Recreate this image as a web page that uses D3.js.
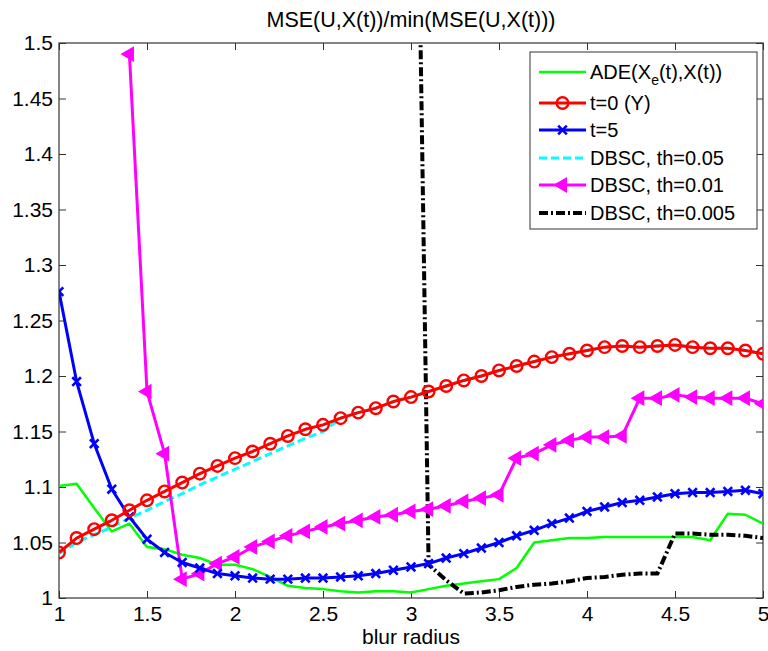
<!DOCTYPE html>
<html>
<head>
<meta charset="utf-8">
<script src="https://cdn.jsdelivr.net/npm/d3@7"></script>
<style>
  body { margin: 0; background: #fff; }
  svg { display: block; font-family: "Liberation Sans", Arial, sans-serif; }
</style>
</head>
<body>
<script>
// raio do desfoque (eixo x)
var raio = [1.0, 1.1, 1.2, 1.3, 1.4, 1.5, 1.6, 1.7, 1.8, 1.9,
            2.0, 2.1, 2.2, 2.3, 2.4, 2.5, 2.6, 2.7, 2.8, 2.9,
            3.0, 3.1, 3.2, 3.3, 3.4, 3.5, 3.6, 3.7, 3.8, 3.9,
            4.0, 4.1, 4.2, 4.3, 4.4, 4.5, 4.6, 4.7, 4.8, 4.9, 5.0];

var xTicks = [1, 1.5, 2, 2.5, 3, 3.5, 4, 4.5, 5];
var yTicks = [1, 1.05, 1.1, 1.15, 1.2, 1.25, 1.3, 1.35, 1.4, 1.45, 1.5];

var ade = [1.101, 1.103, 1.081, 1.060, 1.067, 1.046, 1.044, 1.039, 1.036, 1.030,
           1.030, 1.026, 1.019, 1.011, 1.009, 1.008, 1.006, 1.005, 1.006, 1.006,
           1.005, 1.008, 1.011, 1.013, 1.015, 1.017, 1.027, 1.050, 1.052, 1.054,
           1.054, 1.055, 1.055, 1.055, 1.055, 1.055, 1.055, 1.052, 1.076, 1.075, 1.067];

var t0 = [1.041, 1.054, 1.062, 1.070, 1.079, 1.088, 1.096, 1.104, 1.112, 1.119,
          1.126, 1.132, 1.139, 1.146, 1.152, 1.156, 1.162, 1.167, 1.171, 1.177,
          1.181, 1.186, 1.191, 1.196, 1.200, 1.205, 1.209, 1.213, 1.217, 1.220,
          1.223, 1.226, 1.227, 1.226, 1.227, 1.228, 1.226, 1.225, 1.225, 1.223, 1.220];

var t5 = [1.276, 1.195, 1.139, 1.098, 1.073, 1.053, 1.041, 1.032, 1.027, 1.022,
          1.020, 1.018, 1.017, 1.017, 1.018, 1.018, 1.019, 1.020, 1.022, 1.025,
          1.028, 1.031, 1.036, 1.040, 1.045, 1.050, 1.056, 1.061, 1.067, 1.072,
          1.078, 1.082, 1.086, 1.088, 1.091, 1.094, 1.095, 1.095, 1.096, 1.097, 1.094];

var th005 = [1.040, 1.050, 1.057, 1.064, 1.072, 1.079, 1.087, 1.094, 1.102, 1.109,
             1.116, 1.123, 1.130, 1.137, 1.144, 1.150, 1.162, 1.167, 1.171, 1.177,
             1.181, 1.186, 1.191, 1.196, 1.200, 1.205, 1.209, 1.213, 1.217, 1.220,
             1.223, 1.226, 1.227, 1.226, 1.227, 1.228, 1.226, 1.225, 1.225, 1.223, 1.220];

var th001 = [null, null, null, null, 1.490, 1.186, 1.130, 1.017, 1.022, 1.031,
             1.037, 1.046, 1.051, 1.056, 1.060, 1.064, 1.067, 1.070, 1.073, 1.075,
             1.078, 1.080, 1.083, 1.087, 1.090, 1.093, 1.126, 1.130, 1.138, 1.142,
             1.145, 1.145, 1.146, 1.180, 1.180, 1.183, 1.181, 1.180, 1.180, 1.180, 1.175];

var th0005 = [null, null, null, null, null, null, null, null, null, null,
              null, null, null, null, null, null, null, null, null, null,
              2.060, 1.030, 1.016, 1.004, 1.005, 1.007, 1.010, 1.012, 1.013, 1.015,
              1.018, 1.019, 1.021, 1.022, 1.022, 1.058, 1.058, 1.057, 1.057, 1.056, 1.054];

var series = [
  { nome: "ADE", valores: ade, cor: "#00ff00", largura: 2.5, tracejado: null, marcador: null },
  { nome: "t=0 (Y)", valores: t0, cor: "#ff0000", largura: 3, tracejado: null, marcador: "circulo" },
  { nome: "t=5", valores: t5, cor: "#0000ff", largura: 3, tracejado: null, marcador: "x" },
  { nome: "DBSC, th=0.05", valores: th005, cor: "#00ffff", largura: 3, tracejado: "8,4", marcador: null },
  { nome: "DBSC, th=0.01", valores: th001, cor: "#ff00ff", largura: 3, tracejado: null, marcador: "triangulo" },
  { nome: "DBSC, th=0.005", valores: th0005, cor: "#000000", largura: 4, tracejado: "9,3,2,3", marcador: null }
];

// ordem de desenho (a de cima por último)
var ordem = [0, 3, 5, 4, 2, 1];

const largura = 768;
const altura = 651;
const margens = { c: 43, d: 5, b: 53, e: 59 };
const dim = { l: largura - margens.e - margens.d, a: altura - margens.c - margens.b };

var svg = d3.select("body")
            .append("svg")
            .attr("width", largura)
            .attr("height", altura);

var grafico = svg.append("g")
                 .attr("transform", "translate(" + margens.e + ", " + margens.c + ")");

var xEscala = d3.scaleLinear()
                .domain([1, 5])
                .range([0, dim.l]);

var yEscala = d3.scaleLinear()
                .domain([1, 1.5])
                .range([dim.a, 0]);

grafico.append("clipPath")
       .attr("id", "recorte")
       .append("rect")
       .attr("width", dim.l)
       .attr("height", dim.a);

// eixos com marcas para dentro, nos quatro lados
var corEixo = "#333";

function estiloEixo(g) {
  g.select(".domain").remove();
  g.selectAll(".tick line").attr("stroke", corEixo).attr("stroke-width", 1);
  g.selectAll(".tick text")
   .attr("fill", "#000")
   .style("font-size", "21px");
}

grafico.append("g")
       .attr("transform", "translate(0, " + dim.a + ")")
       .call(d3.axisBottom(xEscala).tickValues(xTicks).tickSize(-7).tickPadding(8)
               .tickFormat(function(d) { return d3.format("")(d); }))
       .call(estiloEixo);

grafico.append("g")
       .call(d3.axisTop(xEscala).tickValues(xTicks).tickSize(-7).tickFormat(""))
       .call(estiloEixo);

grafico.append("g")
       .call(d3.axisLeft(yEscala).tickValues(yTicks).tickSize(-7).tickPadding(6)
               .tickFormat(function(d) { return d3.format("")(+d.toFixed(2)); }))
       .call(estiloEixo);

grafico.append("g")
       .attr("transform", "translate(" + dim.l + ", 0)")
       .call(d3.axisRight(yEscala).tickValues(yTicks).tickSize(-7).tickFormat(""))
       .call(estiloEixo);

grafico.append("rect")
       .attr("width", dim.l)
       .attr("height", dim.a)
       .attr("fill", "none")
       .attr("stroke", corEixo)
       .attr("stroke-width", 1.2);

// linhas
var linha = d3.line()
              .defined(function(d) { return d != null; })
              .x(function(d, i) { return xEscala(raio[i]); })
              .y(function(d) { return yEscala(d); });

var camada = grafico.append("g")
                    .attr("clip-path", "url(#recorte)");

function simbolo(tipo) {
  if (tipo === "circulo") return d3.symbol(d3.symbolCircle, 105)();
  if (tipo === "x") return d3.symbol(d3.symbolX, 50)();
  return d3.symbol(d3.symbolTriangle, 75)();
}

function desenharMarcador(sel, s) {
  if (s.marcador === "circulo") {
    sel.attr("d", simbolo("circulo"))
       .attr("fill", "none")
       .attr("stroke", s.cor)
       .attr("stroke-width", 2.4);
  } else if (s.marcador === "x") {
    sel.attr("d", simbolo("x"))
       .attr("fill", "none")
       .attr("stroke", s.cor)
       .attr("stroke-width", 2.6);
  } else {
    sel.attr("d", simbolo("triangulo"))
       .attr("fill", s.cor)
       .attr("stroke", s.cor)
       .attr("stroke-width", 1.5);
  }
}

ordem.forEach(function(k) {
  var s = series[k];
  camada.append("path")
        .datum(s.valores)
        .attr("fill", "none")
        .attr("stroke", s.cor)
        .attr("stroke-width", s.largura)
        .attr("stroke-dasharray", s.tracejado)
        .attr("stroke-linejoin", "round")
        .attr("d", linha);

  if (s.marcador) {
    var pontos = s.valores.map(function(v, i) { return { x: raio[i], y: v }; })
                          .filter(function(p) { return p.y != null; });
    camada.selectAll(null)
          .data(pontos)
          .enter()
          .append("path")
          .attr("transform", function(p) {
            var rot = s.marcador === "triangulo" ? " rotate(-90)" : "";
            return "translate(" + xEscala(p.x) + "," + yEscala(p.y) + ")" + rot;
          })
          .call(desenharMarcador, s);
  }
});

// título e rótulo do eixo
svg.append("text")
   .attr("x", margens.e + dim.l / 2)
   .attr("y", 27)
   .attr("text-anchor", "middle")
   .style("font-size", "21.5px")
   .text("MSE(U,X(t))/min(MSE(U,X(t)))");

svg.append("text")
   .attr("x", margens.e + dim.l / 2)
   .attr("y", 644)
   .attr("text-anchor", "middle")
   .style("font-size", "21px")
   .text("blur radius");

// legenda
var legenda = svg.append("g")
                 .attr("transform", "translate(530, 52)");

legenda.append("rect")
       .attr("width", 227)
       .attr("height", 177)
       .attr("fill", "#fff")
       .attr("stroke", corEixo)
       .attr("stroke-width", 1);

var linhasY = [20, 51, 78, 106, 133, 161];

series.forEach(function(s, i) {
  var item = legenda.append("g")
                    .attr("transform", "translate(0, " + linhasY[i] + ")");
  item.append("line")
      .attr("x1", 9)
      .attr("x2", 56)
      .attr("stroke", s.cor)
      .attr("stroke-width", s.largura)
      .attr("stroke-dasharray", s.tracejado);
  if (s.marcador) {
    item.append("path")
        .attr("transform", "translate(32.5, 0)" + (s.marcador === "triangulo" ? " rotate(-90)" : ""))
        .call(desenharMarcador, s);
  }
  var texto = item.append("text")
                  .attr("x", 60)
                  .attr("y", 7)
                  .style("font-size", "20px");
  if (i === 0) {
    texto.append("tspan").text("ADE(X");
    texto.append("tspan").attr("dy", 6).style("font-size", "14px").text("e");
    texto.append("tspan").attr("dy", -6).text("(t),X(t))");
  } else {
    texto.text(s.nome);
  }
});
</script>
</body>
</html>
